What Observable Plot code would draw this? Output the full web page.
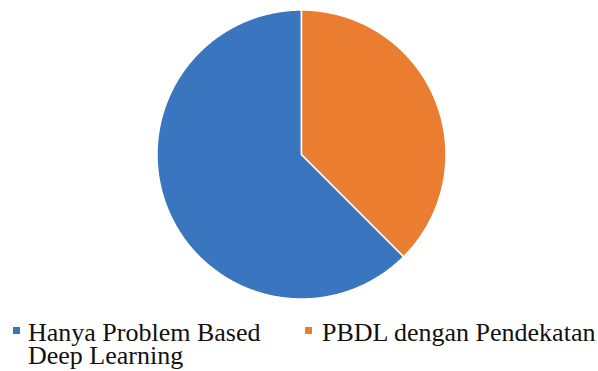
<!DOCTYPE html>
<html>
<head>
<meta charset="utf-8">
<script src="https://cdn.jsdelivr.net/npm/d3@7"></script>
<script src="https://cdn.jsdelivr.net/npm/@observablehq/plot@0.6"></script>
<style>
  html, body { margin: 0; padding: 0; background: #fff; }
  #chart { width: 598px; height: 371px; overflow: hidden; position: relative; }
  #chart svg { display: block; }
  .legend {
    display: flex;
    padding-top: 16px;
    padding-left: 13px;
    font-size: 26px;
    line-height: 23px;
    color: #111;
  }
  .item { display: flex; align-items: flex-start; }
  .item:first-child { width: 292px; }
  .item:last-child { white-space: nowrap; }
  .sw { width: 7px; height: 7px; margin-top: 6px; flex: none; }
  .item:first-child .sw { margin-right: 8px; }
  .item:last-child .sw { margin-right: 10px; }
  .item:first-child .label { width: 250px; }
</style>
</head>
<body>
<div id="chart"></div>
<script>
// Share of respondents per approach
const categories = ["Hanya Problem Based Deep Learning", "PBDL dengan Pendekatan"];
const values = [62.5, 37.5];
const colors = ["#3a76bf", "#ea7d2f"];

// Slice angles: the first slice ends at 12 o'clock, the second starts there (clockwise)
const total = d3.sum(values);
const start = -2 * Math.PI * values[0] / total;
const arcs = d3.pie().sort(null).startAngle(start).endAngle(start + 2 * Math.PI)(values);

// Outline each slice as a closed polygon in unit-circle coordinates
const points = [];
arcs.forEach((a, i) => {
  const key = categories[i];
  points.push({key, x: 0, y: 0});
  const steps = Math.max(2, Math.ceil((a.endAngle - a.startAngle) / (Math.PI / 360)));
  for (let s = 0; s <= steps; s++) {
    const t = a.startAngle + (a.endAngle - a.startAngle) * s / steps;
    points.push({key, x: Math.sin(t), y: Math.cos(t)});
  }
});

const plot = Plot.plot({
  width: 598,
  height: 305,
  marginLeft: 156.5,
  marginRight: 152.5,
  marginTop: 9.5,
  marginBottom: 6.5,
  axis: null,
  x: {domain: [-1, 1]},
  y: {domain: [-1, 1]},
  color: {domain: categories, range: colors},
  marks: [
    Plot.line(points, {
      x: "x", y: "y", z: "key", fill: "key",
      stroke: "#ffffff", strokeWidth: 1.5, strokeLinejoin: "round",
      curve: "linear-closed"
    })
  ]
});

const chart = document.getElementById("chart");
chart.appendChild(plot);

// Legend below the pie
const legend = document.createElement("div");
legend.className = "legend";
legend.style.fontFamily = "'Liberation Serif', 'DejaVu Serif', serif";
categories.forEach((c, i) => {
  const item = document.createElement("div");
  item.className = "item";
  const sw = document.createElement("span");
  sw.className = "sw";
  sw.style.background = colors[i];
  const label = document.createElement("span");
  label.className = "label";
  label.style.fontFamily = "'Liberation Serif', 'DejaVu Serif', serif";
  label.textContent = c;
  item.appendChild(sw);
  item.appendChild(label);
  legend.appendChild(item);
});
chart.appendChild(legend);
</script>
</body>
</html>
